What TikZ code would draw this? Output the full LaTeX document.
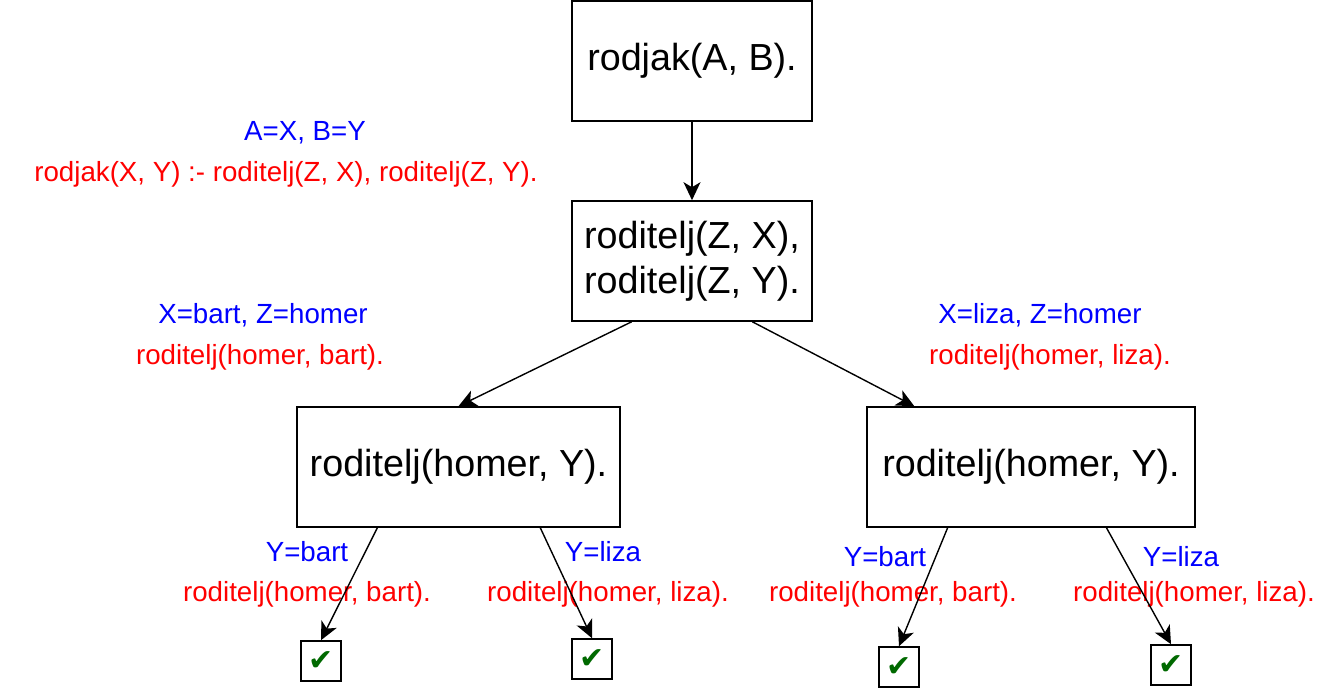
\documentclass[tikz,border=0pt]{standalone}
\usepackage{fontspec}
\setmainfont{Liberation Sans}
\newfontfamily\symfont{DejaVu Sans}
\usetikzlibrary{arrows.meta,calc}
\definecolor{lblue}{RGB}{0,0,255}
\definecolor{lred}{RGB}{255,0,0}
\definecolor{chk}{RGB}{0,105,0}
\begin{document}
\begin{tikzpicture}[x=1pt,y=-1pt,
  goal/.style={draw,line width=1.6pt,minimum width=240pt,minimum height=120pt,inner sep=0pt,align=center,font=\fontsize{37.7}{45}\selectfont},
  wgoal/.style={goal,minimum width=323pt},
  okbox/.style={draw,line width=1.6pt,minimum width=40pt,minimum height=40pt,inner sep=0pt,text=chk,font=\symfont\fontsize{30}{30}\selectfont},
  sub/.style={text=lblue,anchor=base,inner sep=0pt,font=\fontsize{27.7}{33}\selectfont},
  cls/.style={text=lred,anchor=base,inner sep=0pt,font=\fontsize{27.7}{33}\selectfont},
  conn/.style={line width=1.4pt,-{Stealth[length=18pt,width=17pt,inset=5pt]}}]
\useasboundingbox (0,0) rectangle (1322,688);
\node[goal] (g1) at (692,61) {rodjak(A, B).};
\node[goal] (g2) at (692,261) {roditelj(Z, X),\\roditelj(Z, Y).};
\node[wgoal] (g3) at (458.5,467) {roditelj(homer, Y).};
\node[wgoal,minimum width=328pt] (g4) at (1031,467) {roditelj(homer, Y).};
\node[okbox] (c1) at (321,661) {✔};
\node[okbox] (c2) at (592,659) {✔};
\node[okbox] (c3) at (899,667) {✔};
\node[okbox] (c4) at (1171,665) {✔};
\node[sub] (l1) at (305,140) {A=X, B=Y};
\node[cls] (r1) at (286,181) {rodjak(X, Y) :- roditelj(Z, X), roditelj(Z, Y).};
\node[sub] (l2) at (263,323) {X=bart, Z=homer};
\node[cls] (r2) at (260,364) {roditelj(homer, bart).};
\node[sub] (l3) at (1040,323) {X=liza, Z=homer};
\node[cls] (r3) at (1050,364) {roditelj(homer, liza).};
\node[sub] (l4) at (307,561) {Y=bart};
\node[cls] (r4) at (307,601) {roditelj(homer, bart).};
\node[sub] (l5) at (603,561) {Y=liza};
\node[cls] (r5) at (608,601) {roditelj(homer, liza).};
\node[sub] (l6) at (885,566) {Y=bart};
\node[cls] (r6) at (893,601) {roditelj(homer, bart).};
\node[sub] (l7) at (1181,566) {Y=liza};
\node[cls] (r7) at (1194,601) {roditelj(homer, liza).};
\draw[conn] (g1.south) -- (g2.north);
\draw[conn] ($(g2.south west)!0.25!(g2.south east)$) -- (g3.north);
\draw[conn] ($(g2.south west)!0.75!(g2.south east)$) -- ($(g4.north west)!0.146!(g4.north east)$);
\draw[conn] ($(g3.south west)!0.25!(g3.south east)$) -- (c1.north);
\draw[conn] ($(g3.south west)!0.752!(g3.south east)$) -- (c2.north);
\draw[conn] ($(g4.south west)!0.247!(g4.south east)$) -- (c3.north);
\draw[conn] ($(g4.south west)!0.729!(g4.south east)$) -- (c4.north);
\end{tikzpicture}
\end{document}
